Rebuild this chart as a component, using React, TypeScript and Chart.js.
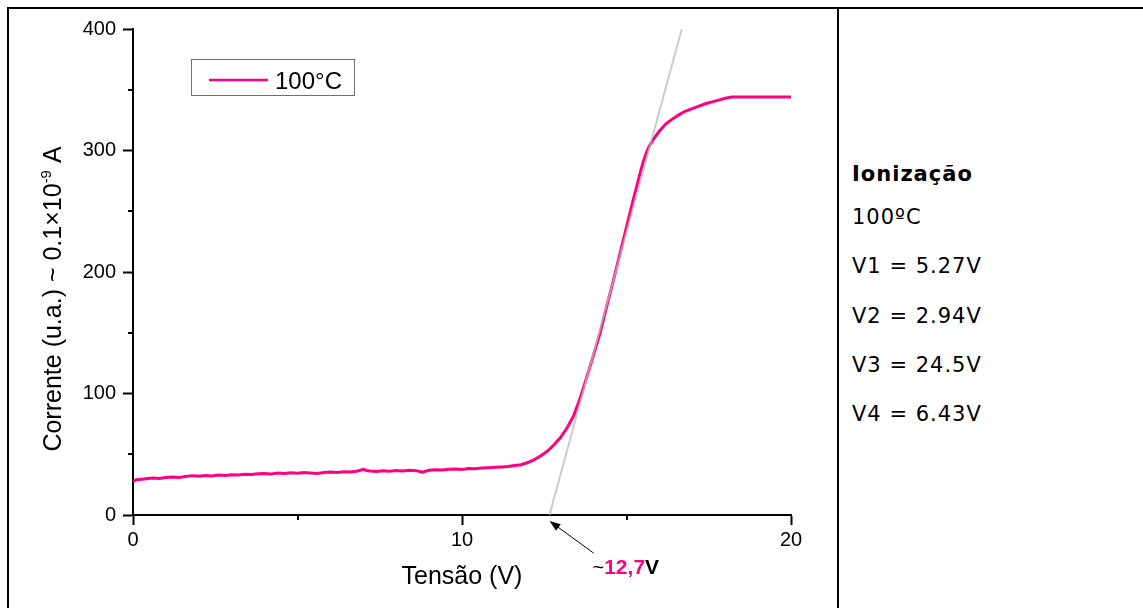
import React, { useEffect, useRef } from 'react';
import { Chart, registerables } from 'chart.js';
Chart.register(...registerables);

// ---- data ----
const voltage = [
  0, 0.1, 0.2, 0.4, 0.6, 0.8, 1.0, 1.2, 1.4, 1.6, 1.8, 2.0, 2.2, 2.4, 2.6, 2.8, 3.0, 3.2, 3.4, 3.6, 3.8,
  4.0, 4.2, 4.4, 4.6, 4.8, 5.0, 5.2, 5.4, 5.6, 5.8, 6.0, 6.2, 6.4, 6.6, 6.8, 7.0, 7.1, 7.2, 7.4, 7.6, 7.8,
  8.0, 8.2, 8.4, 8.6, 8.8, 9.0, 9.2, 9.4, 9.6, 9.8, 10.0, 10.2, 10.4, 10.6, 10.8, 11.0, 11.2, 11.4, 11.6,
  11.8, 12.0, 12.2, 12.4, 12.6, 12.8, 13.0, 13.2, 13.4, 13.6, 13.8, 14.0, 14.2, 14.4, 14.6, 14.8, 15.0,
  15.2, 15.4, 15.5, 15.6, 15.7, 15.8, 16.0, 16.2, 16.4, 16.6, 16.8, 17.0, 17.2, 17.4, 17.6, 17.8, 18.0, 18.2, 19.0, 20.0,
];
const current = [
  27.5, 29.0, 29.3, 29.8, 30.4, 30.1, 30.9, 31.2, 30.8, 31.6, 32.4, 32.0, 32.6, 32.1, 32.9, 32.5, 33.2, 33.0, 33.6, 33.3, 33.9,
  34.2, 33.8, 34.5, 34.1, 34.7, 34.4, 35.0, 34.6, 34.2, 34.9, 35.3, 34.9, 35.6, 35.4, 36.0, 37.6, 36.6, 36.2, 35.8, 36.4, 36.0,
  36.6, 36.2, 36.8, 36.5, 35.3, 36.9, 37.3, 37.0, 37.6, 37.9, 37.5, 38.2, 38.0, 38.6, 38.9, 39.2, 39.6, 40.0, 40.7,
  41.4, 43.2, 45.6, 48.8, 52.6, 57.8, 64.0, 72.0, 82.0, 97.0, 114.0, 132.0, 150.0, 172.0, 193.0, 215.0, 237.0,
  259.0, 280.0, 290.0, 298.0, 304.0, 308.5, 316.0, 322.0, 326.0, 329.5, 332.5, 334.5, 336.5, 338.5, 340.0, 341.5, 343.0, 344.0, 344.0, 344.0,
];
const tangentV = [12.66, 16.68];
const tangentI = [0, 400];
const xMinorTicks = [5, 15];
const yMinorTicks = [50, 150, 250, 350];
const seriesLabel = '100°C';
const thresholdLabel = '12,7';
const sideTitle = 'Ionização';
const sideLines = ['100ºC', 'V1 = 5.27V', 'V2 = 2.94V', 'V3 = 24.5V', 'V4 = 6.43V'];

const PINK = '#ff0080';
const FONT = 'Arial, "Liberation Sans", sans-serif';

const decorPlugin = {
  id: 'decor',
  afterDraw(chart: any) {
    const ctx = chart.ctx as CanvasRenderingContext2D;
    const xs = chart.scales.x;
    const ys = chart.scales.y;
    const ca = chart.chartArea;
    ctx.save();
    // minor ticks
    ctx.strokeStyle = '#000';
    ctx.lineWidth = 2;
    xMinorTicks.forEach((v) => {
      const px = Math.round(xs.getPixelForValue(v));
      ctx.beginPath();
      ctx.moveTo(px, ca.bottom);
      ctx.lineTo(px, ca.bottom + 5);
      ctx.stroke();
    });
    yMinorTicks.forEach((v) => {
      const py = Math.round(ys.getPixelForValue(v));
      ctx.beginPath();
      ctx.moveTo(ca.left - 5, py);
      ctx.lineTo(ca.left, py);
      ctx.stroke();
    });

    // legend box
    ctx.strokeStyle = '#707070';
    ctx.lineWidth = 1;
    ctx.strokeRect(191.5, 59.5, 163, 36);
    ctx.strokeStyle = PINK;
    ctx.lineWidth = 2.5;
    ctx.beginPath();
    ctx.moveTo(209, 80);
    ctx.lineTo(268, 80);
    ctx.stroke();
    ctx.fillStyle = '#000';
    ctx.font = `24px ${FONT}`;
    ctx.textBaseline = 'alphabetic';
    ctx.textAlign = 'left';
    ctx.fillText(seriesLabel, 275, 89);

    // x title
    ctx.font = `25px ${FONT}`;
    ctx.textAlign = 'center';
    ctx.fillText('Tensão (V)', (ca.left + ca.right) / 2, 584);

    // y title (rotated, with superscript)
    const p1 = 'Corrente (u.a.) ~ 0.1×10';
    const sup = '-9';
    const p3 = ' A';
    ctx.font = `25px ${FONT}`;
    const w1 = ctx.measureText(p1).width;
    const w3 = ctx.measureText(p3).width;
    ctx.font = `15px ${FONT}`;
    const w2 = ctx.measureText(sup).width;
    const total = w1 + w2 + w3;
    ctx.save();
    ctx.translate(61, 299);
    ctx.rotate(-Math.PI / 2);
    ctx.textAlign = 'left';
    let x0 = -total / 2;
    ctx.font = `25px ${FONT}`;
    ctx.fillText(p1, x0, 0);
    x0 += w1;
    ctx.font = `15px ${FONT}`;
    ctx.fillText(sup, x0, -10);
    x0 += w2;
    ctx.font = `25px ${FONT}`;
    ctx.fillText(p3, x0, 0);
    ctx.restore();

    // arrow annotation
    const hx = xs.getPixelForValue(tangentV[0]);
    const hy = ca.bottom + 6;
    const tx = hx + 44;
    const ty = hy + 32;
    const ang = Math.atan2(hy - ty, hx - tx);
    ctx.strokeStyle = '#000';
    ctx.lineWidth = 1;
    ctx.beginPath();
    ctx.moveTo(tx, ty);
    ctx.lineTo(hx + Math.cos(ang) * -6, hy + Math.sin(ang) * -6);
    ctx.stroke();
    ctx.fillStyle = '#000';
    ctx.beginPath();
    ctx.moveTo(hx, hy);
    ctx.lineTo(hx - 11 * Math.cos(ang) + 4 * Math.sin(ang), hy - 11 * Math.sin(ang) - 4 * Math.cos(ang));
    ctx.lineTo(hx - 11 * Math.cos(ang) - 4 * Math.sin(ang), hy - 11 * Math.sin(ang) + 4 * Math.cos(ang));
    ctx.closePath();
    ctx.fill();

    let ax = tx - 1;
    const ay = ty + 21;
    ctx.textAlign = 'left';
    ctx.font = `20px ${FONT}`;
    ctx.fillStyle = '#000';
    ctx.fillText('~', ax, ay);
    ax += ctx.measureText('~').width;
    ctx.font = `bold 21px ${FONT}`;
    ctx.fillStyle = PINK;
    ctx.fillText(thresholdLabel, ax, ay);
    ax += ctx.measureText(thresholdLabel).width;
    ctx.fillStyle = '#000';
    ctx.fillText('V', ax, ay);
    ctx.restore();
  },
};

export default function App() {
  const canvasRef = useRef<HTMLCanvasElement | null>(null);

  useEffect(() => {
    if (!canvasRef.current) return;
    const mainData = voltage.map((v, i) => ({ x: v, y: current[i] }));
    const tangentData = tangentV.map((v, i) => ({ x: v, y: tangentI[i] }));
    const chart = new Chart(canvasRef.current, {
      type: 'scatter',
      data: {
        datasets: [
          {
            label: seriesLabel,
            data: mainData,
            showLine: true,
            borderColor: PINK,
            backgroundColor: PINK,
            borderWidth: 3,
            pointRadius: 0,
            tension: 0,
            order: 2,
          },
          {
            label: 'tangent',
            data: tangentData,
            showLine: true,
            borderColor: 'rgba(185,185,185,0.75)',
            borderWidth: 2,
            pointRadius: 0,
            order: 1,
          },
        ],
      },
      options: {
        responsive: false,
        animation: false,
        layout: { padding: { left: 0, top: 29, right: 45, bottom: 0 } },
        plugins: { legend: { display: false }, tooltip: { enabled: false } },
        scales: {
          x: {
            type: 'linear',
            min: 0,
            max: 20,
            afterFit: (s: any) => { s.height = 93; },
            border: { color: '#000', width: 2 },
            grid: { drawOnChartArea: false, drawTicks: true, tickLength: 10, tickWidth: 2, tickColor: '#000' },
            ticks: { stepSize: 10, color: '#000', font: { family: FONT, size: 20 }, padding: 3, maxRotation: 0 },
          },
          y: {
            type: 'linear',
            min: 0,
            max: 400,
            afterFit: (s: any) => { s.width = 133; },
            border: { color: '#000', width: 2 },
            grid: { drawOnChartArea: false, drawTicks: true, tickLength: 10, tickWidth: 2, tickColor: '#000' },
            ticks: { stepSize: 100, color: '#000', font: { family: FONT, size: 20 }, padding: 7 },
          },
        },
      },
      plugins: [decorPlugin],
    });
    return () => chart.destroy();
  }, []);

  const textStyle = (baseline: number, bold = false): React.CSSProperties => ({
    position: 'absolute',
    left: 852,
    top: baseline - 19,
    fontFamily: '"DejaVu Sans", sans-serif',
    fontSize: 21,
    lineHeight: '24px',
    letterSpacing: '1px',
    fontWeight: bold ? 'bold' : 'normal',
    color: '#000',
    whiteSpace: 'nowrap',
  });
  const baselines = [224, 273, 323, 372, 421];

  return (
    <div style={{ position: 'fixed', left: 0, top: 0, width: 1143, height: 608, overflow: 'hidden', background: '#fff' }}>
      <canvas ref={canvasRef} width={836} height={608} style={{ position: 'absolute', left: 0, top: 0, width: 836, height: 608 }} />
      <div style={{ position: 'absolute', left: 7, top: 7, width: 1200, height: 2, background: '#000' }} />
      <div style={{ position: 'absolute', left: 7, top: 7, width: 2, height: 700, background: '#000' }} />
      <div style={{ position: 'absolute', left: 837, top: 7, width: 2, height: 700, background: '#000' }} />
      <div style={textStyle(181, true)}>{sideTitle}</div>
      {sideLines.map((t, i) => (
        <div key={i} style={textStyle(baselines[i])}>{t}</div>
      ))}
    </div>
  );
}
